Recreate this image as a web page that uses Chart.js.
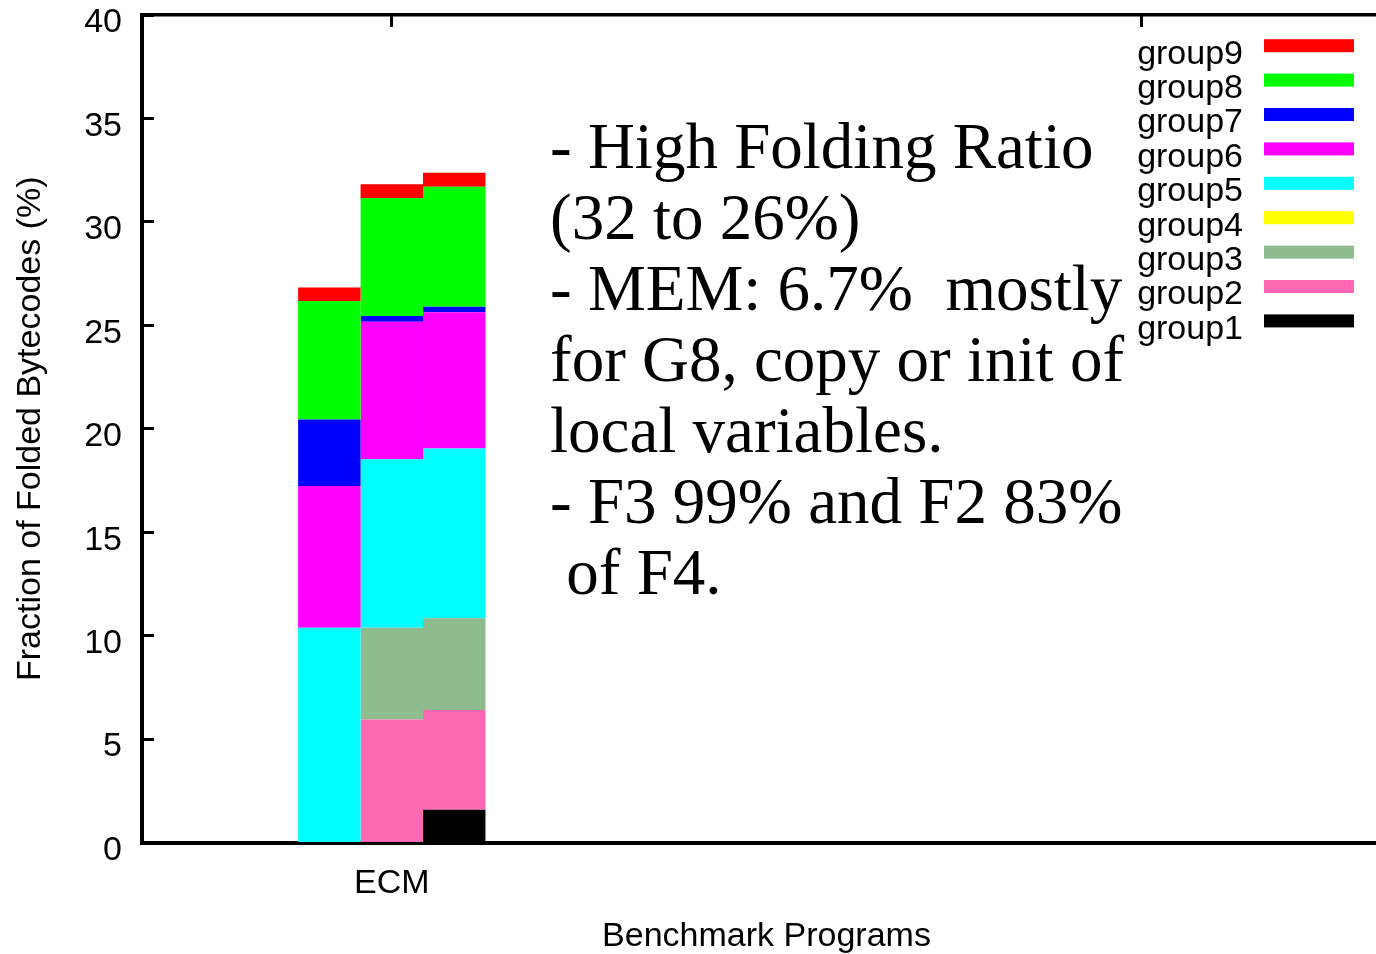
<!DOCTYPE html>
<html>
<head>
<meta charset="utf-8">
<script src="https://cdn.jsdelivr.net/npm/chart.js@4.4.1/dist/chart.umd.min.js"></script>
<style>
html, body { margin: 0; padding: 0; background: #fff; overflow: hidden; }
canvas { display: block; }
</style>
</head>
<body>
<canvas id="c" width="1391" height="954"></canvas>
<script>
// ---- data ----
const categories = ['ECM', ''];
const barRuns = ['run1', 'run2', 'run3'];
const groupNames = ['group1', 'group2', 'group3', 'group4', 'group5', 'group6', 'group7', 'group8', 'group9'];
const group1 = [0, 0, 1.58];
const group2 = [0, 5.95, 4.82];
const group3 = [0, 4.43, 4.44];
const group4 = [0, 0, 0];
const group5 = [10.38, 8.14, 8.21];
const group6 = [6.85, 6.65, 6.58];
const group7 = [3.22, 0.28, 0.27];
const group8 = [5.72, 5.71, 5.80];
const group9 = [0.66, 0.66, 0.67];
const noteLines = [
  '- High Folding Ratio',
  '(32 to 26%)',
  '- MEM: 6.7%  mostly',
  'for G8, copy or init of',
  'local variables.',
  '- F3 99% and F2 83%',
  ' of F4.'
];
const yTitle = 'Fraction of Folded Bytecodes (%)';
const xTitle = 'Benchmark Programs';

// ---- styles ----
const groupColors = ['#000000', '#ff69b4', '#8fbc8f', '#ffff00', '#00ffff', '#ff00ff', '#0000ff', '#00ff00', '#ff0000'];

Chart.defaults.font.family = '"Liberation Sans", Arial, sans-serif';
Chart.defaults.color = '#000';

const groupSeries = [group1, group2, group3, group4, group5, group6, group7, group8, group9];
const datasets = [];
barRuns.forEach((run, k) => {
  groupSeries.forEach((vals, g) => {
    datasets.push({
      label: groupNames[g],
      stack: run,
      data: [{ x: categories.indexOf('ECM'), y: vals[k] }],
      backgroundColor: groupColors[g],
      borderWidth: 0,
      categoryPercentage: 0.25,
      barPercentage: 1
    });
  });
});

const catTicks = s => { s.ticks = categories.map((_, i) => ({ value: i })); };

const keyPlugin = {
  id: 'key',
  afterDraw(chart) {
    const { ctx, chartArea } = chart;
    ctx.save();
    ctx.font = '34px "Liberation Sans"';
    ctx.textAlign = 'right';
    ctx.textBaseline = 'middle';
    const n = groupNames.length;
    for (let i = 0; i < n; i++) {
      const g = n - 1 - i;
      const yc = chartArea.top + 30.7 + i * 34.4;
      ctx.fillStyle = '#000';
      ctx.fillText(groupNames[g], chartArea.right - 148, yc + 8.5);
      ctx.fillStyle = groupColors[g];
      ctx.fillRect(chartArea.right - 127, yc - 6.5, 90, 13);
    }
    ctx.restore();
  }
};

const notePlugin = {
  id: 'note',
  afterDraw(chart) {
    const { ctx, chartArea } = chart;
    ctx.save();
    ctx.font = '65px "Liberation Serif"';
    ctx.textAlign = 'left';
    ctx.textBaseline = 'alphabetic';
    ctx.fillStyle = '#000';
    noteLines.forEach((line, i) => {
      ctx.fillText(line, chartArea.left + 408, chartArea.top + 152.5 + i * 71);
    });
    ctx.restore();
  }
};

new Chart(document.getElementById('c'), {
  type: 'bar',
  data: { datasets },
  options: {
    responsive: false,
    animation: false,
    devicePixelRatio: 1,
    layout: { padding: 0 },
    plugins: { legend: { display: false }, tooltip: { enabled: false }, title: { display: false } },
    scales: {
      x: {
        type: 'linear', position: 'bottom', min: -1/3, max: 4/3, z: 1, offset: false,
        afterBuildTicks: catTicks,
        afterFit: s => { s.height = 111.5; s.paddingLeft = 0; s.paddingRight = 0; },
        grid: { display: false, drawTicks: false, drawOnChartArea: false, offset: false },
        border: { display: true, color: '#000', width: 4 },
        ticks: {
          callback: v => categories[v] ?? '',
          font: { size: 34 }, color: '#000', padding: 20.5, maxRotation: 0, autoSkip: false
        },
        title: { display: true, text: xTitle, font: { size: 34, lineHeight: 1.0 }, color: '#000', padding: { top: 0, bottom: 0 } }
      },
      x2: {
        type: 'linear', position: 'top', min: -1/3, max: 4/3, z: 1, offset: false,
        afterBuildTicks: catTicks,
        afterFit: s => { s.height = 15; s.paddingLeft = 0; s.paddingRight = 0; },
        grid: { display: true, drawOnChartArea: false, drawTicks: true, tickLength: -12, tickWidth: 3, tickColor: '#000', offset: false },
        border: { display: true, color: '#000', width: 3.5 },
        ticks: { display: false }
      },
      y: {
        type: 'linear', position: 'left', min: 0, max: 40, stacked: true, z: 1,
        afterFit: s => { s.width = 142; s.paddingTop = 0; s.paddingBottom = 0; },
        grid: { drawOnChartArea: false, drawTicks: true, tickLength: -12, tickWidth: 3, tickColor: '#000' },
        border: { display: true, color: '#000', width: 4 },
        ticks: { stepSize: 5, font: { size: 34 }, color: '#000', padding: 32, labelOffset: 8 },
        title: { display: true, text: yTitle, font: { size: 34 }, color: '#000', padding: { top: 10, bottom: 0 } }
      }
    }
  },
  plugins: [keyPlugin, notePlugin]
});
</script>
</body>
</html>
